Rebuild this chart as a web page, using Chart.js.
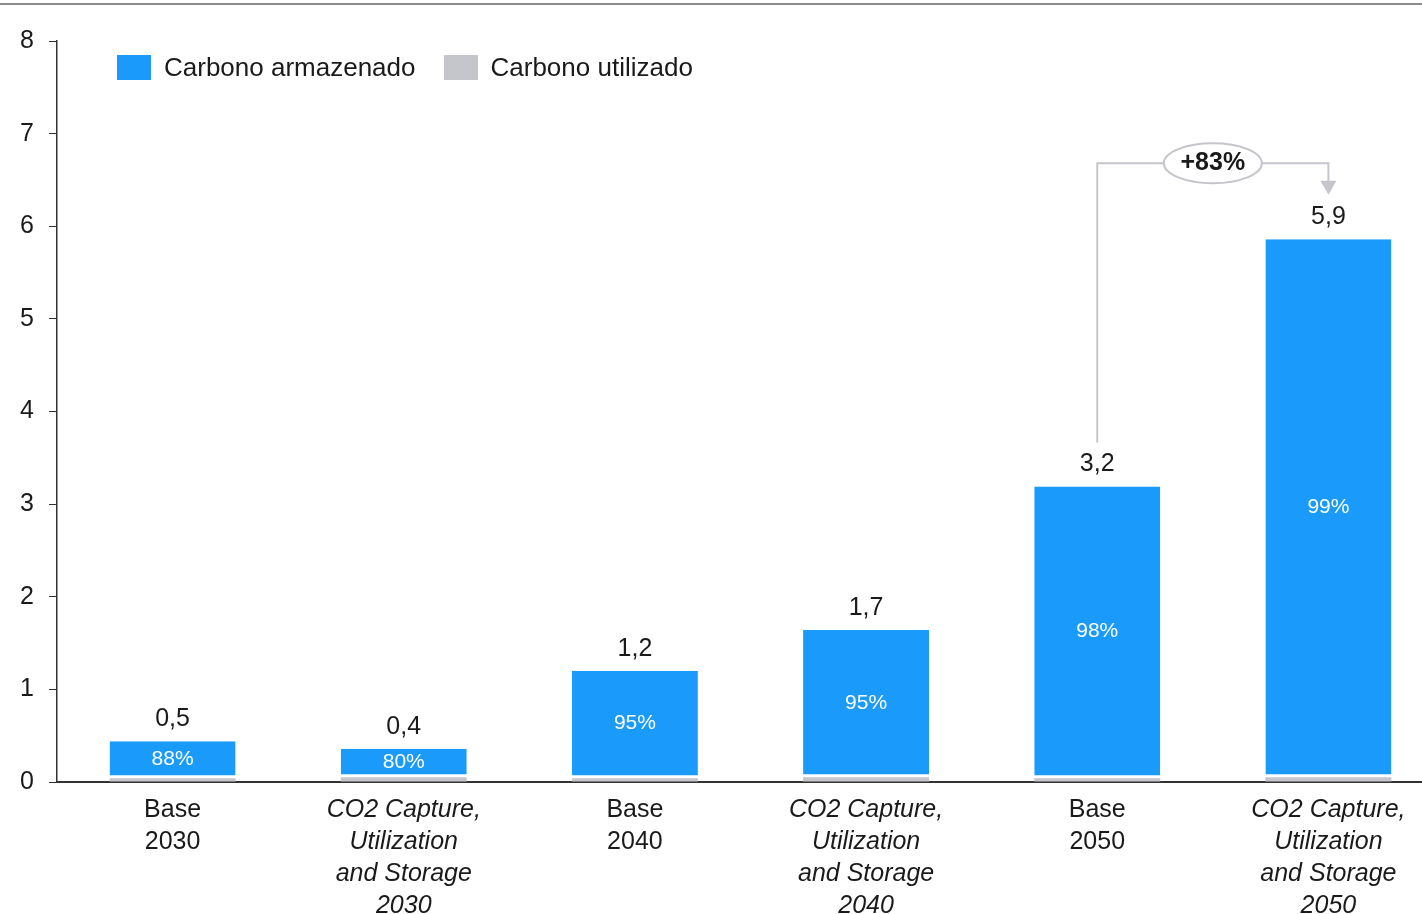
<!DOCTYPE html>
<html>
<head>
<meta charset="utf-8">
<script src="https://cdn.jsdelivr.net/npm/chart.js@4.4.0/dist/chart.umd.min.js"></script>
<style>
    html, body { margin: 0; padding: 0; background: #fff; overflow: hidden; width: 1422px; height: 914px; }
    .top-rule { position: absolute; left: 0; top: 3px; width: 1422px; height: 2px; background: #8c8c8c; }
    .wrap { position: absolute; left: 0; top: 0; width: 1444px; height: 914px; }
    .legend { position: absolute; left: 117px; top: 52px; font: 26px "Liberation Sans", Arial, sans-serif; color: #1a1a1a; display: flex; align-items: center; }
    .legend span.box { display: inline-block; width: 34px; height: 25px; margin-right: 13px; }
    .legend span.item { display: flex; align-items: center; margin-right: 28px; }
</style>
</head>
<body>
<div class="top-rule"></div>
<div class="wrap"><canvas id="myChart" width="1444" height="914"></canvas></div>
<div class="legend">
    <span class="item"><span class="box" style="background:#1a9bfc"></span>Carbono armazenado</span>
    <span class="item"><span class="box" style="background:#c5c5cc"></span>Carbono utilizado</span>
</div>
<script>
    // categorias (linhas do rotulo)
    var categories = [
        ['Base', '2030'],
        ['CO2 Capture,', 'Utilization', 'and Storage', '2030'],
        ['Base', '2040'],
        ['CO2 Capture,', 'Utilization', 'and Storage', '2040'],
        ['Base', '2050'],
        ['CO2 Capture,', 'Utilization', 'and Storage', '2050']
    ];
    var italicCats = [false, true, false, true, false, true];
    // valores
    var armazenado = [0.40, 0.31, 1.16, 1.59, 3.15, 5.81];
    var utilizado = [0.04, 0.05, 0.04, 0.05, 0.04, 0.05];
    var totalLabels = ['0,5', '0,4', '1,2', '1,7', '3,2', '5,9'];
    var pctLabels = ['88%', '80%', '95%', '95%', '98%', '99%'];
    var yTicks = [0, 1, 2, 3, 4, 5, 6, 7, 8];
    var growthLabel = '+83%';

    var FONT = '"Liberation Sans", Arial, sans-serif';

    //rotulos e anotacao
    var labelPlugin = {
        id: 'labels',
        afterDatasetsDraw: function (chart) {
            var ctx = chart.ctx;
            var metaB = chart.getDatasetMeta(1);
            var y = chart.scales.y;
            ctx.save();
            ctx.textAlign = 'center';
            ctx.textBaseline = 'middle';
            metaB.data.forEach(function (bar, i) {
                ctx.fillStyle = '#1a1a1a';
                ctx.font = '25px ' + FONT;
                ctx.fillText(totalLabels[i], bar.x, bar.y - 22);
                ctx.fillStyle = '#ffffff';
                ctx.font = '21px ' + FONT;
                ctx.fillText(pctLabels[i], bar.x, (bar.y + bar.base) / 2 - 1);
            });
            // seta +83%
            var x1 = metaB.data[4].x, x2 = metaB.data[5].x;
            var yTop = y.getPixelForValue(6.68);
            var yStart = metaB.data[4].y - 44;
            var yArrow = y.getPixelForValue(6.34);
            ctx.strokeStyle = '#c5c5cc';
            ctx.lineWidth = 2;
            ctx.beginPath();
            ctx.moveTo(x1, yStart);
            ctx.lineTo(x1, yTop);
            ctx.lineTo(x2, yTop);
            ctx.lineTo(x2, yArrow - 12);
            ctx.stroke();
            ctx.fillStyle = '#c5c5cc';
            ctx.beginPath();
            ctx.moveTo(x2 - 8, yArrow - 14);
            ctx.lineTo(x2 + 8, yArrow - 14);
            ctx.lineTo(x2, yArrow);
            ctx.closePath();
            ctx.fill();
            var cx = (x1 + x2) / 2;
            ctx.beginPath();
            ctx.ellipse(cx, yTop, 49, 20, 0, 0, Math.PI * 2);
            ctx.fillStyle = '#ffffff';
            ctx.fill();
            ctx.stroke();
            ctx.fillStyle = '#1a1a1a';
            ctx.font = 'bold 25px ' + FONT;
            ctx.fillText(growthLabel, cx, yTop);
            ctx.restore();
        }
    };

    var ctx = document.getElementById('myChart').getContext('2d');
    var myChart = new Chart(ctx, {
        type: 'bar',
        data: {
            labels: categories,
            datasets: [{
                label: 'Carbono utilizado',
                data: utilizado,
                backgroundColor: '#c5c5cc',
                borderWidth: 0
            }, {
                label: 'Carbono armazenado',
                data: armazenado,
                backgroundColor: '#1a9bfc',
                borderColor: '#ffffff',
                borderWidth: { bottom: 3 },
                borderSkipped: false
            }]
        },
        plugins: [labelPlugin],
        options: {
            responsive: false,
            animation: false,
            layout: { padding: { top: 41, right: 0, left: 0, bottom: 0 } },
            plugins: { legend: { display: false }, tooltip: { enabled: false } },
            datasets: { bar: { categoryPercentage: 1, barPercentage: 0.545 } },
            scales: {
                x: {
                    stacked: true,
                    grid: { display: false, drawTicks: false },
                    border: { color: '#333', width: 2 },
                    ticks: {
                        color: '#1a1a1a',
                        padding: 12,
                        maxRotation: 0,
                        autoSkip: false,
                        font: function (c) {
                            return { family: FONT, size: 25, style: italicCats[c.index] ? 'italic' : 'normal', lineHeight: 1.28 };
                        }
                    },
                    afterFit: function (s) { s.height = 132; }
                },
                y: {
                    stacked: true,
                    min: 0,
                    max: 8,
                    afterBuildTicks: function (s) { s.ticks = yTicks.map(function (v) { return { value: v }; }); },
                    grid: { drawOnChartArea: false, drawTicks: true, tickLength: 8, color: '#333' },
                    border: { color: '#333', width: 1.5 },
                    ticks: { color: '#1a1a1a', padding: 15, font: { family: FONT, size: 25 } },
                    afterFit: function (s) { s.width = 57; }
                }
            }
        }
    });
</script>
</body>
</html>
